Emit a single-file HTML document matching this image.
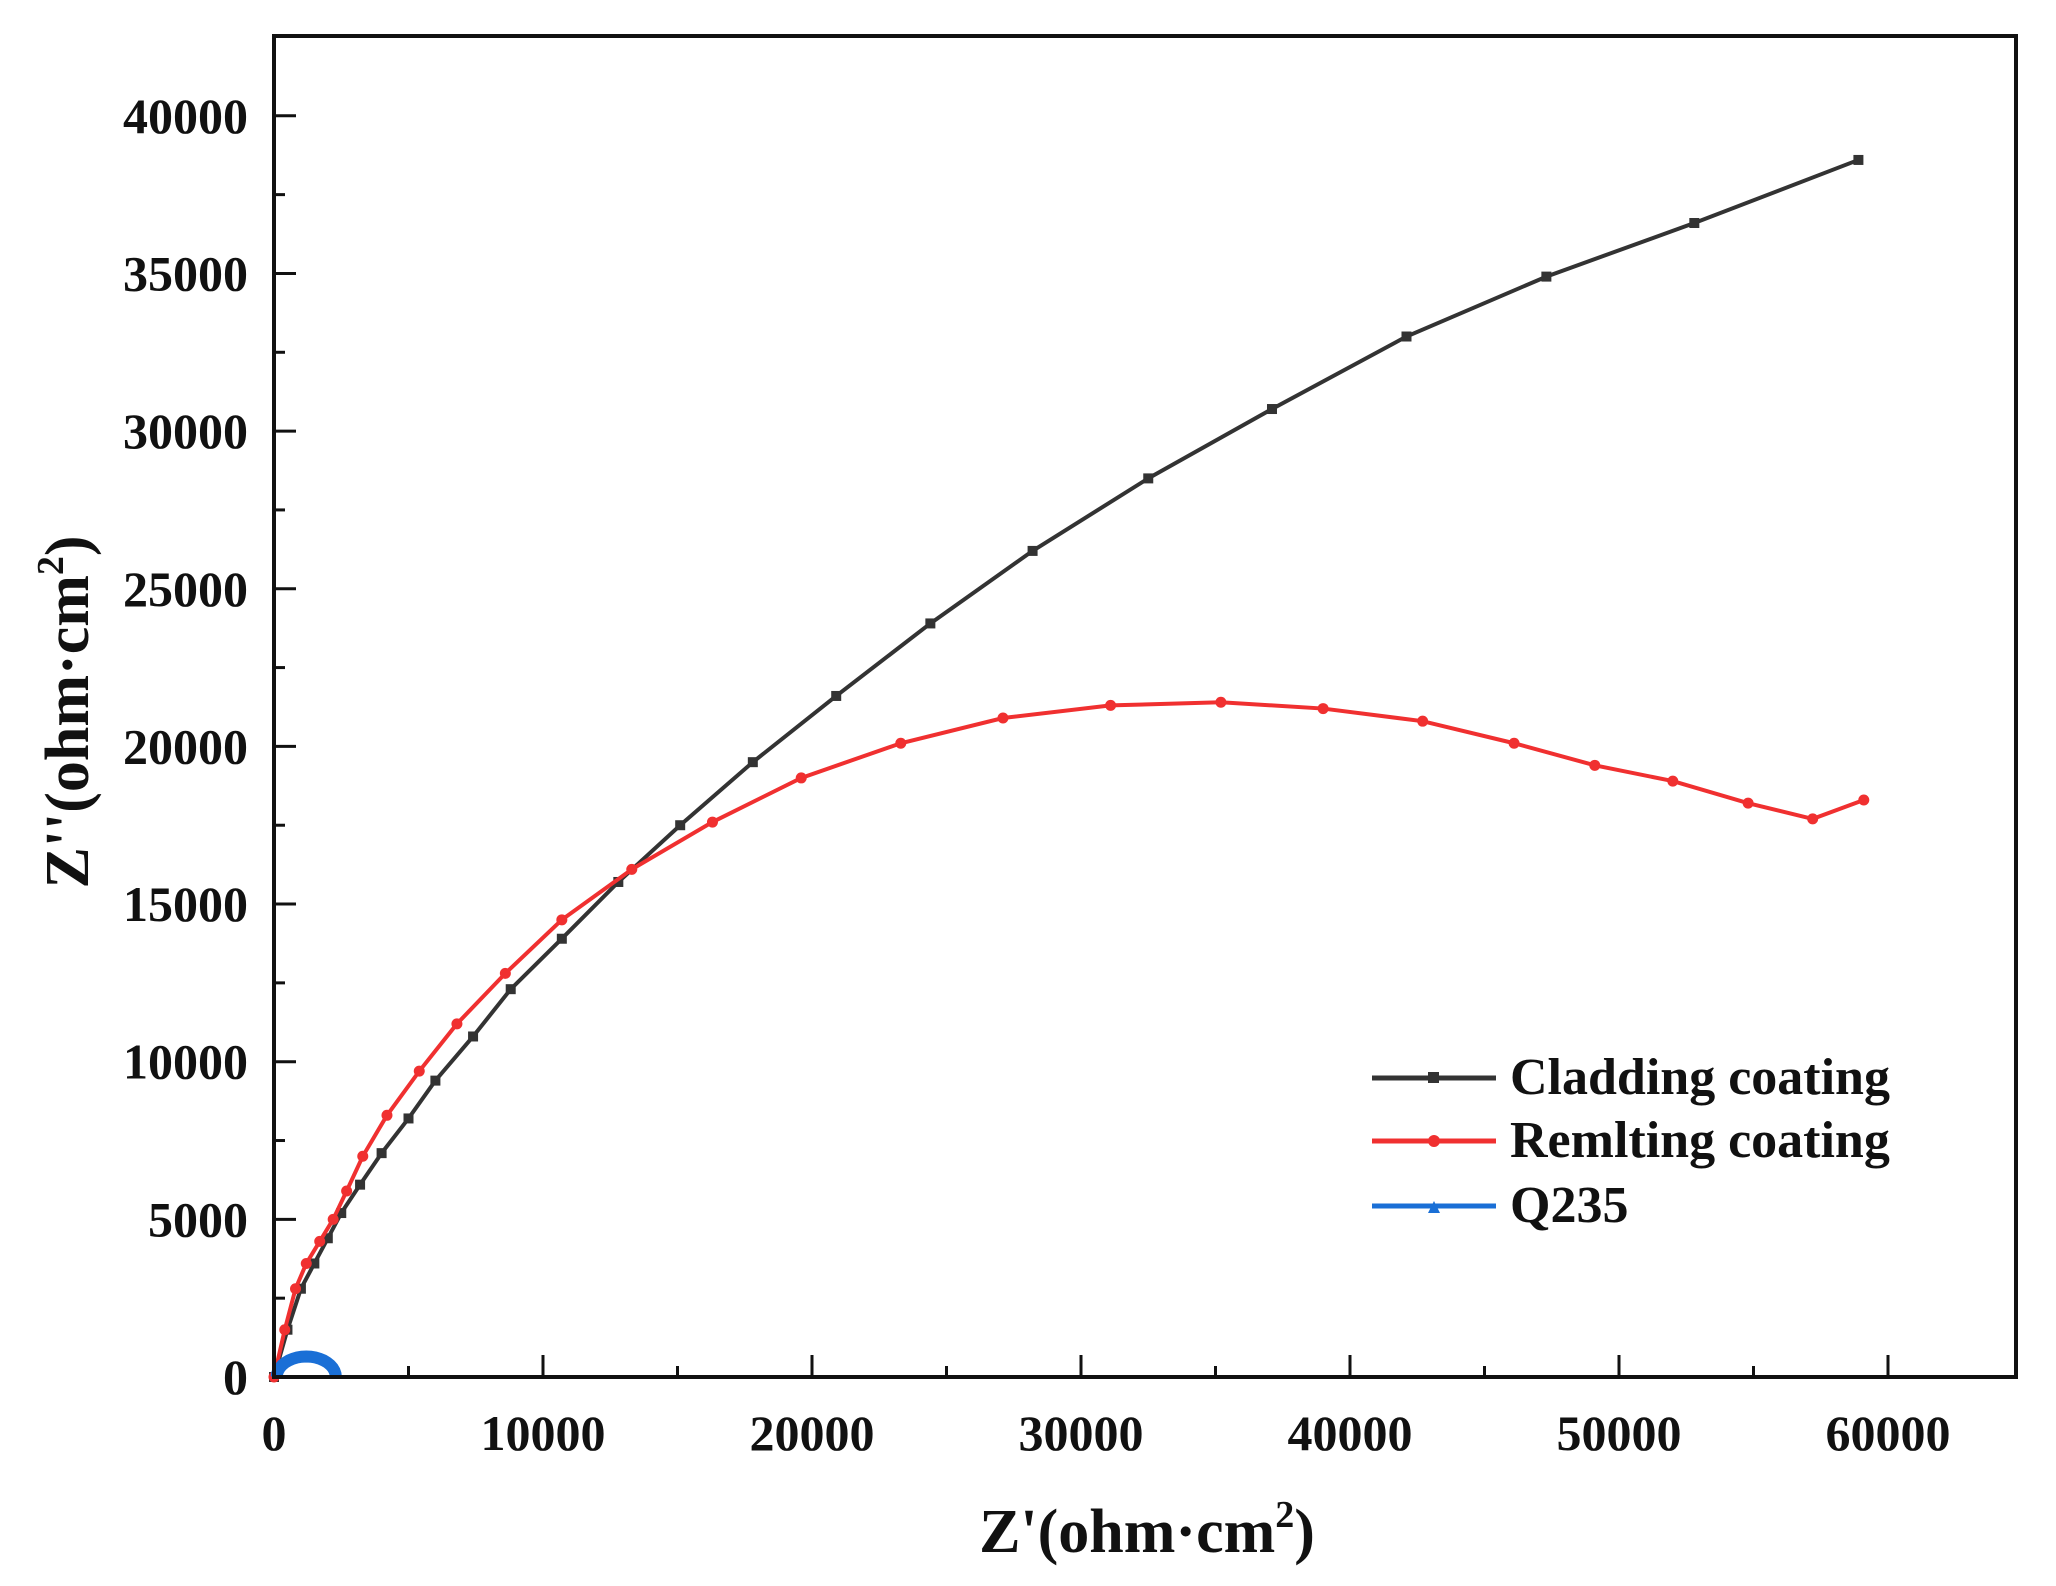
<!DOCTYPE html>
<html><head><meta charset="utf-8"><style>
html,body{margin:0;padding:0;background:#fff;}
svg{display:block;}
text{font-family:"Liberation Serif",serif;font-weight:bold;fill:#111;}
</style></head><body>
<svg id="s" width="2056" height="1586" viewBox="0 0 2056 1586" xmlns="http://www.w3.org/2000/svg">
<rect x="0" y="0" width="2056" height="1586" fill="#fff"/>
<g id="g"></g>
<rect x="274" y="36" width="1742" height="1341" fill="none" stroke="#111" stroke-width="4"/>
<text x="1147" y="1552" font-size="62" text-anchor="middle">Z'(ohm·cm<tspan dy="-25" font-size="38">2</tspan><tspan dy="25">)</tspan></text>
<text transform="translate(88,712) rotate(-90)" font-size="62" text-anchor="middle">Z''(ohm·cm<tspan dy="-25" font-size="38">2</tspan><tspan dy="25">)</tspan></text>
<line x1="1372" y1="1078" x2="1496" y2="1078" stroke="#333" stroke-width="5"/>
<rect x="1428" y="1072" width="11" height="11" fill="#333"/>
<text x="1510" y="1094" font-size="52">Cladding coating</text>
<line x1="1372" y1="1141" x2="1496" y2="1141" stroke="#f03030" stroke-width="5"/>
<circle cx="1434" cy="1141" r="6" fill="#f03030"/>
<text x="1510" y="1157" font-size="52">Remlting coating</text>
<line x1="1372" y1="1206" x2="1496" y2="1206" stroke="#1a6fd6" stroke-width="5"/>
<path d="M1428,1213 L1434,1201 L1440,1213Z" fill="#1a6fd6"/>
<text x="1510" y="1222" font-size="52">Q235</text>
</svg>
<script>
var g=document.getElementById('g');var ns='http://www.w3.org/2000/svg';
function X(v){return 274+v*0.0269;}function Y(v){return 1377-v*0.03153;}
function el(t,a){var e=document.createElementNS(ns,t);for(var k in a)e.setAttribute(k,a[k]);g.appendChild(e);return e;}
for(var i=0;i<=12;i++){var v=i*5000,x=X(v),L=(i%2==0)?22:11;el('line',{x1:x,y1:1377,x2:x,y2:1377-L,stroke:'#111','stroke-width':3});
 if(i%2==0){var t=el('text',{x:x,y:1450,'font-size':50,'text-anchor':'middle'});t.textContent=v;}}
for(var i=0;i<=8;i++){var v=i*5000,y=Y(v);el('line',{x1:274,y1:y,x2:296,y2:y,stroke:'#111','stroke-width':3});
 if(i<8){var y2=Y(v+2500);el('line',{x1:274,y1:y2,x2:285,y2:y2,stroke:'#111','stroke-width':3});}
 var t=el('text',{x:248,y:y+17,'font-size':50,'text-anchor':'end'});t.textContent=v;}
function series(d,col,mk){var p=d.map(function(q){return X(q[0])+','+Y(q[1]);}).join(' ');
 el('polyline',{points:p,fill:'none',stroke:col,'stroke-width':4});
 d.forEach(function(q){if(mk=='s')el('rect',{x:X(q[0])-5,y:Y(q[1])-5,width:10,height:10,fill:col});else el('circle',{cx:X(q[0]),cy:Y(q[1]),r:5.5,fill:col});});}
var blk=[[0,0],[500,1500],[1000,2800],[1500,3600],[2000,4400],[2500,5200],[3200,6100],[4000,7100],[5000,8200],[6000,9400],[7400,10800],[8800,12300],[10700,13900],[12800,15700],[15100,17500],[17800,19500],[20900,21600],[24400,23900],[28200,26200],[32500,28500],[37100,30700],[42100,33000],[47300,34900],[52800,36600],[58900,38600]];
var red=[[0,0],[400,1500],[800,2800],[1200,3600],[1700,4300],[2200,5000],[2700,5900],[3300,7000],[4200,8300],[5400,9700],[6800,11200],[8600,12800],[10700,14500],[13300,16100],[16300,17600],[19600,19000],[23300,20100],[27100,20900],[31100,21300],[35200,21400],[39000,21200],[42700,20800],[46100,20100],[49100,19400],[52000,18900],[54800,18200],[57200,17700],[59100,18300]];
series(blk,'#333','s');series(red,'#f03030','c');
var bl=[];for(var k=0;k<=20;k++){var a=Math.PI*k/20;bl.push([1200-1100*Math.cos(a),650*Math.sin(a)]);}
el('polyline',{points:bl.map(function(q){return X(q[0])+','+Y(q[1]);}).join(' '),fill:'none',stroke:'#1a6fd6','stroke-width':12});
</script>
</body></html>
